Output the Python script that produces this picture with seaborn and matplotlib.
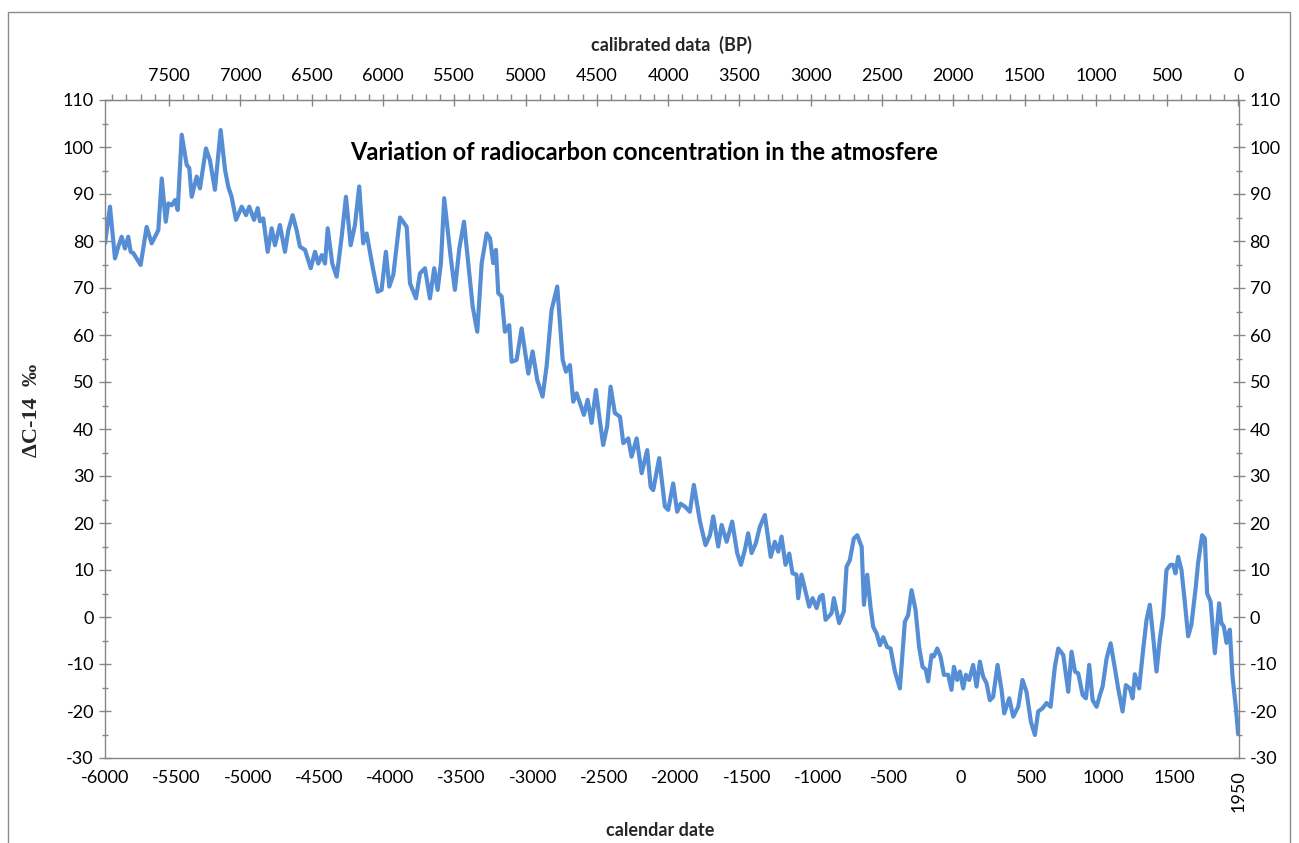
import numpy as np
import pandas as pd
import matplotlib
matplotlib.use("Agg")
import matplotlib.pyplot as plt
import seaborn as sns
from matplotlib.ticker import MultipleLocator
from matplotlib.patches import Rectangle

# ---- data ----
years = [
    -6000, -5965, -5930, -5907, -5883, -5860, -5837, -5820, -5801, -5750, -5708, -5673, -5649, -5626,
    -5602, -5574, -5556, -5532, -5509, -5490, -5462, -5427, -5409, -5392, -5357, -5334, -5292, -5264,
    -5229, -5189, -5158, -5135, -5112, -5081, -5041, -5011, -4988, -4955, -4929, -4913, -4890, -4859,
    -4831, -4808, -4773, -4738, -4714, -4684, -4656, -4633, -4597, -4557, -4527, -4504, -4480, -4457,
    -4438, -4406, -4375, -4340, -4310, -4277, -4247, -4217, -4189, -4165, -4123, -4088, -4060, -4030,
    -4006, -3978, -3931, -3884, -3861, -3819, -3791, -3756, -3721, -3691, -3667, -3644, -3621, -3576,
    -3546, -3515, -3482, -3452, -3421, -3389, -3358, -3323, -3300, -3277, -3258, -3242, -3218, -3195,
    -3165, -3148, -3113, -3078, -3031, -3001, -2968, -2931, -2903, -2868, -2851, -2828, -2809, -2790,
    -2767, -2739, -2716, -2692, -2669, -2641, -2615, -2587, -2557, -2533, -2506, -2478, -2454, -2424,
    -2388, -2365, -2330, -2307, -2271, -2236, -2197, -2173, -2155, -2113, -2073, -2050, -2015, -1987,
    -1963, -1933, -1898, -1870, -1827, -1788, -1757, -1734, -1699, -1675, -1640, -1601, -1566, -1540,
    -1512, -1489, -1465, -1435, -1407, -1372, -1331, -1302, -1278, -1255, -1227, -1201, -1178, -1150,
    -1138, -1115, -1084, -1061, -1037, -1009, -986, -967, -946, -904, -888, -851, -818, -799,
    -776, -748, -724, -693, -677, -654, -630, -612, -588, -565, -542, -514, -490, -460,
    -425, -390, -367, -343, -315, -290, -266, -243, -227, -203, -187, -163, -140, -116,
    -86, -63, -46, -23, -4, 19, 38, 61, 89, 113, 136, 159, 183, 206,
    229, 260, 288, 307, 342, 370, 405, 435, 463, 494, 522, 545, 576, 604,
    632, 662, 686, 721, 756, 779, 803, 826, 857, 880, 903, 927, 955, 978,
    997, 1025, 1053, 1083, 1106, 1137, 1160, 1188, 1207, 1223, 1253, 1281, 1305, 1328,
    1351, 1375, 1398, 1421, 1445, 1473, 1492, 1508, 1527, 1550, 1573, 1597, 1620, 1651,
    1667, 1695, 1714, 1730, 1754, 1784, 1814, 1830, 1847, 1866, 1889, 1908, 1931, 1947,
]
delta_c14 = [
    79.5, 87.3, 76.3, 78.8, 80.9, 78.4, 80.9, 77.7, 77.4, 74.9, 83.0, 79.5, 80.9, 82.3,
    93.3, 84.1, 88.0, 87.6, 88.7, 86.6, 102.6, 96.2, 95.5, 89.4, 93.7, 91.2, 99.7, 97.2,
    90.9, 103.6, 95.1, 91.5, 89.4, 84.5, 87.3, 85.5, 87.3, 84.5, 87.0, 84.2, 84.8, 77.7,
    82.7, 79.1, 83.4, 77.7, 82.3, 85.5, 82.3, 78.8, 78.1, 74.2, 77.7, 75.2, 77.0, 75.2,
    82.7, 75.2, 72.4, 80.9, 89.4, 79.1, 83.4, 91.6, 79.5, 81.6, 74.5, 69.2, 69.6, 77.7,
    70.3, 72.8, 85.0, 83.0, 71.0, 67.8, 73.1, 74.2, 67.8, 74.2, 69.6, 75.3, 89.1, 76.7,
    69.6, 78.4, 84.1, 75.3, 66.0, 60.7, 75.3, 81.6, 80.6, 75.3, 78.1, 68.9, 68.2, 60.7,
    62.1, 54.3, 54.7, 61.4, 51.8, 56.5, 50.4, 46.9, 53.3, 65.3, 67.4, 70.3, 62.5, 54.7,
    52.2, 53.6, 45.8, 47.6, 45.5, 43.0, 46.2, 41.3, 48.3, 42.6, 36.6, 40.6, 49.0, 43.4,
    42.6, 37.0, 38.0, 34.1, 38.0, 30.6, 35.5, 27.7, 27.0, 33.8, 23.5, 22.8, 28.4, 22.4,
    24.1, 23.5, 22.4, 28.1, 20.3, 15.3, 17.4, 21.4, 15.0, 19.6, 16.0, 20.3, 13.6, 11.1,
    14.3, 17.8, 13.6, 15.7, 19.2, 21.7, 12.8, 16.0, 13.9, 17.1, 11.1, 13.5, 9.3, 9.0,
    4.0, 9.0, 5.1, 2.2, 4.0, 1.9, 4.3, 4.7, -0.6, 0.8, 4.0, -1.3, 1.2, 10.7,
    12.1, 16.7, 17.4, 14.9, 2.6, 9.0, 1.9, -2.1, -3.5, -6.0, -4.3, -6.4, -6.7, -11.6,
    -15.2, -1.0, 0.4, 5.7, 1.5, -6.4, -10.6, -11.2, -13.7, -8.1, -8.4, -6.7, -8.4, -12.3,
    -12.3, -15.5, -10.6, -13.4, -11.6, -15.2, -12.3, -13.4, -10.2, -14.8, -9.5, -12.7, -14.1, -17.7,
    -17.0, -10.2, -15.5, -20.5, -17.3, -21.2, -19.1, -13.4, -15.9, -22.3, -25.1, -20.1, -19.4, -18.3,
    -19.1, -10.6, -6.7, -8.1, -15.9, -7.4, -11.6, -12.0, -16.6, -17.3, -10.2, -17.7, -19.1, -16.6,
    -14.8, -8.8, -5.6, -10.9, -15.2, -20.1, -14.5, -15.2, -17.3, -12.2, -15.2, -7.0, -0.6, 2.6,
    -4.1, -11.6, -4.8, 0.1, 10.0, 11.1, 11.1, 9.3, 12.8, 10.0, 3.3, -4.1, -1.6, 6.6,
    11.6, 17.4, 16.7, 5.0, 3.3, -7.7, 2.9, -1.3, -2.0, -5.5, -2.7, -12.7, -19.1, -24.8,
]

bottom_ticks = [-6000, -5500, -5000, -4500, -4000, -3500, -3000, -2500, -2000,
                -1500, -1000, -500, 0, 500, 1000, 1500, 1950]
bottom_labels = [str(v) for v in bottom_ticks]
bp_ticks = [7500, 7000, 6500, 6000, 5500, 5000, 4500, 4000, 3500, 3000,
            2500, 2000, 1500, 1000, 500, 0]
y_ticks = list(range(-30, 111, 10))

title_text = "Variation of radiocarbon concentration in the atmosfere"
top_label = "calibrated data  (BP)"
bottom_label = "calendar date"
y_label = "\u0394C-14  \u2030"

df = pd.DataFrame({"year": years, "d14c": delta_c14})

# ---- style ----
sns.set_style("white")
plt.rcParams["font.family"] = ["Lato", "DejaVu Sans"]
plt.rcParams["axes.unicode_minus"] = False

W, H = 1299, 843
fig = plt.figure(figsize=(W / 100, H / 100), dpi=100)
ax = fig.add_axes([105 / W, 1 - 758 / H, (1238.5 - 105) / W, (758 - 100) / H])

line_color = "#558ED5"
sns.lineplot(data=df, x="year", y="d14c", ax=ax, color=line_color,
             linewidth=3.0, solid_joinstyle="round", solid_capstyle="round")

ax.set_xlim(-6000, 1950)
ax.set_ylim(-30, 110)
spine_c = "#868686"
for s in ax.spines.values():
    s.set_color(spine_c)
    s.set_linewidth(1.0)

ax.set_xticks(bottom_ticks)
ax.set_xticklabels(bottom_labels)
ax.xaxis.set_minor_locator(MultipleLocator(100))
ax.set_yticks(y_ticks)
ax.yaxis.set_minor_locator(MultipleLocator(5))

ax.tick_params(axis="x", which="major", direction="inout", length=9, width=1,
               color=spine_c, labelsize=13, pad=4, labelcolor="black")
ax.tick_params(axis="x", which="minor", direction="in", length=4, width=1, color=spine_c)
ax.tick_params(axis="y", which="major", direction="inout", length=9, width=1,
               color=spine_c, labelsize=13, labelcolor="black",
               left=True, right=True, labelleft=True, labelright=True)
ax.tick_params(axis="y", which="minor", direction="inout", length=5, width=1,
               color=spine_c, left=True, right=True)
lbls = ax.get_xticklabels()
lbls[-1].set_rotation(90)
lbls[-1].set_va("top")

ax.set_xlabel(bottom_label, fontsize=13, fontweight="bold")
ax.xaxis.set_label_coords(0.49, -0.098)
ax.set_ylabel(y_label, fontsize=16, fontweight="bold",
              family=["Liberation Serif", "DejaVu Serif"])
ax.yaxis.set_label_coords(-0.056, 0.529)

# top axis in years BP
sec = ax.secondary_xaxis("top", functions=(lambda d: 1950 - d, lambda b: 1950 - b))
sec.set_xticks(bp_ticks)
sec.set_xticklabels([str(v) for v in bp_ticks])
sec.xaxis.set_minor_locator(MultipleLocator(100))
sec.tick_params(which="major", direction="inout", length=9, width=1, color=spine_c,
                labelsize=13, pad=7, labelcolor="black")
sec.tick_params(which="minor", direction="out", length=4, width=1, color=spine_c)
sec.spines["top"].set_color(spine_c)
sec.set_xlabel(top_label, fontsize=13, fontweight="bold", labelpad=12)

ax.text(0.476, 0.92, title_text, transform=ax.transAxes, ha="center", va="center",
        fontsize=17, fontweight="bold", color="black")

# outer chart frame
fig.patches.append(Rectangle((8 / W, -0.02), (1290 - 8) / W, 1 - 12 / H + 0.02,
                             transform=fig.transFigure, fill=False,
                             edgecolor="#8c8c8c", linewidth=1.0))

fig.savefig("out.png", dpi=100)
